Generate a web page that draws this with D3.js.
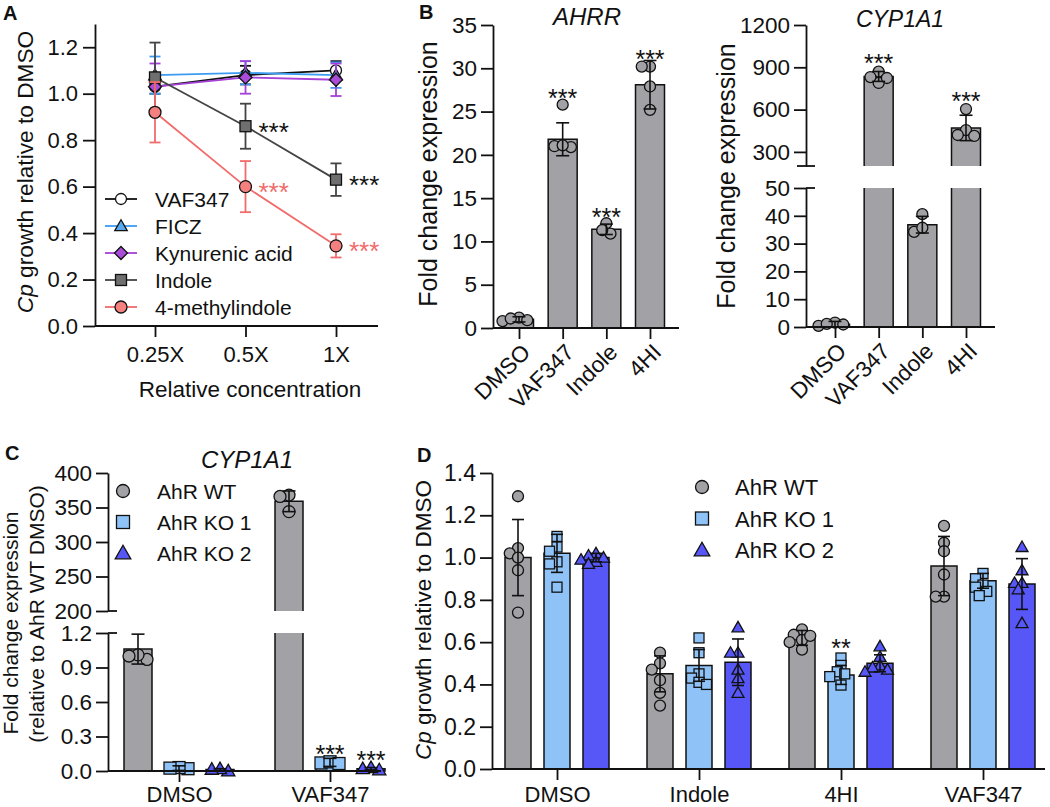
<!DOCTYPE html>
<html><head><meta charset="utf-8">
<script src="https://cdn.jsdelivr.net/npm/d3@7/dist/d3.min.js"></script>
<style>html,body{margin:0;padding:0;background:#fff;} svg{display:block;}</style>
</head><body>
<svg id="fig" width="1050" height="807"></svg>
<script>
// ================= DATA =================
// Panel A
const concLabels = ["0.25X", "0.5X", "1X"];
const seriesA = ["VAF347", "FICZ", "Kynurenic acid", "Indole", "4-methylindole"];
const vafMean = [1.03, 1.08, 1.10];
const vafSD = [0.03, 0.04, 0.04];
const ficzMean = [1.08, 1.09, 1.08];
const ficzSD = [0.08, 0.05, 0.055];
const kynMean = [1.03, 1.07, 1.06];
const kynSD = [0.10, 0.07, 0.07];
const indoleMean = [1.07, 0.86, 0.63];
const indoleSD = [0.15, 0.097, 0.07];
const mi4Mean = [0.92, 0.60, 0.345];
const mi4SD = [0.13, 0.11, 0.05];
const indoleStars = ["", "***", "***"];
const mi4Stars = ["", "***", "***"];
const yTicksA = [0, 0.2, 0.4, 0.6, 0.8, 1.0, 1.2];

// Panel B
const bCats = ["DMSO", "VAF347", "Indole", "4HI"];
const ahrrMean = [1.0, 21.8, 11.4, 28.1];
const ahrrSD = [0.3, 1.9, 0.6, 2.8];
const ahrrPts = [[0.8, 1.2, 0.9, 1.1], [25.8, 20.9, 21.0, 21.1], [10.9, 12.1, 11.3], [30.2, 30.2, 27.9, 25.2]];
const ahrrStars = ["", "***", "***", "***"];
const yTicksAHRR = [0, 5, 10, 15, 20, 25, 30, 35];
const cyp1Mean = [1.0, 835, 36.8, 470];
const cyp1SD = [1.0, 35, 3.0, 90];
const cyp1Pts = [[0.4, 1.6, 0.9, 1.1], [869, 789, 831, 824], [40.6, 34.2, 35.7], [604, 455, 413, 420]];
const cyp1Stars = ["", "***", "", "***"];
const yTicksCypLow = [0, 10, 20, 30, 40, 50];
const yTicksCypHigh = [300, 600, 900, 1200];

// Panel C
const cCats = ["DMSO", "VAF347"];
const genotypes = ["AhR WT", "AhR KO 1", "AhR KO 2"];
const cWTMean = [1.06, 359];
const cWTSD = [0.13, 15];
const cWTPts = [[0.97, 1.01, 1.0], [368, 366, 344]];
const cKO1Mean = [0.025, 0.075];
const cKO1SD = [0.02, 0.035];
const cKO1Pts = [[0.02, 0.03, 0.025], [0.07, 0.08, 0.065]];
const cKO2Mean = [0.012, 0.02];
const cKO2SD = [0.008, 0.01];
const cKO2Pts = [[0.0, 0.02, 0.015], [0.01, 0.03, 0.02]];
const cKO1Stars = ["", "***"];
const cKO2Stars = ["", "***"];
const yTicksCLow = [0, 0.3, 0.6, 0.9, 1.2];
const yTicksCHigh = [200, 250, 300, 350, 400];

// Panel D
const dCats = ["DMSO", "Indole", "4HI", "VAF347"];
const dWTMean = [1.0, 0.45, 0.62, 0.96];
const dWTSD = [0.18, 0.085, 0.035, 0.14];
const dWTPts = [[1.29, 1.045, 1.02, 1.0, 0.94, 0.74], [0.55, 0.50, 0.47, 0.42, 0.36, 0.30], [0.66, 0.635, 0.61, 0.60, 0.63, 0.565], [1.15, 1.07, 1.03, 0.92, 0.815, 0.815]];
const dKO1Mean = [1.02, 0.49, 0.445, 0.89];
const dKO1SD = [0.09, 0.075, 0.045, 0.035];
const dKO1Pts = [[1.10, 1.05, 1.03, 0.98, 0.97, 0.86], [0.62, 0.55, 0.45, 0.43, 0.41, 0.40], [0.525, 0.49, 0.46, 0.45, 0.437, 0.397], [0.925, 0.90, 0.87, 0.86, 0.84, 0.82]];
const dKO2Mean = [1.0, 0.505, 0.50, 0.875];
const dKO2SD = [0.02, 0.11, 0.04, 0.12];
const dKO2Pts = [[1.02, 1.01, 1.0, 0.99, 0.98, 0.97], [0.67, 0.55, 0.55, 0.47, 0.43, 0.36], [0.58, 0.53, 0.49, 0.47, 0.48, 0.46], [1.05, 0.94, 0.88, 0.88, 0.85, 0.69]];
const dKO1Stars = ["", "", "**", ""];
const yTicksD = [0, 0.2, 0.4, 0.6, 0.8, 1.0, 1.2, 1.4];

// ================= STYLE =================
const F = "'Liberation Sans', Arial, Helvetica, sans-serif";
const INK = "#111";
const GRAY = "#a2a2a6", KO1C = "#8fc3f8", KO2C = "#5757f7";
const svg = d3.select("#fig");

function axisStyle(g, fs) {
  g.attr("font-family", F).attr("font-size", fs);
  g.select(".domain").attr("stroke", INK).attr("stroke-width", 1.8);
  g.selectAll(".tick line").attr("stroke", INK).attr("stroke-width", 1.8);
  g.selectAll(".tick text").attr("fill", INK);
}
function hline(g, x1, x2, y) {
  g.append("line").attr("x1", x1).attr("x2", x2).attr("y1", y).attr("y2", y)
    .attr("stroke", INK).attr("stroke-width", 1.8);
}
function marker(g, shape, x, y, r, fill, stroke, sw) {
  let el;
  if (shape === "circle") el = g.append("circle").attr("cx", x).attr("cy", y).attr("r", r);
  else if (shape === "square") el = g.append("rect").attr("x", x - r).attr("y", y - r).attr("width", 2 * r).attr("height", 2 * r);
  else if (shape === "triangle") el = g.append("polygon").attr("points", `${x},${y - r * 1.2} ${x + r * 1.2},${y + r * 0.9} ${x - r * 1.2},${y + r * 0.9}`);
  else if (shape === "diamond") el = g.append("polygon").attr("points", `${x},${y - r * 1.3} ${x + r * 1.3},${y} ${x},${y + r * 1.3} ${x - r * 1.3},${y}`);
  el.attr("fill", fill).attr("stroke", stroke || INK).attr("stroke-width", sw || 1.3);
}
function errBar(g, x, yLo, yHi, cap, color, sw) {
  g.append("line").attr("x1", x).attr("x2", x).attr("y1", yLo).attr("y2", yHi).attr("stroke", color).attr("stroke-width", sw || 1.6);
  [yLo, yHi].forEach(y => g.append("line").attr("x1", x - cap / 2).attr("x2", x + cap / 2).attr("y1", y).attr("y2", y).attr("stroke", color).attr("stroke-width", sw || 1.6));
}
function stars(g, x, yCenter, txt, color, anchor, fs) {
  if (!txt) return;
  g.append("text").attr("x", x).attr("y", yCenter + (fs || 24) * 0.56).attr("text-anchor", anchor || "middle")
    .attr("font-family", F).attr("font-size", fs || 24).attr("fill", color || INK).text(txt);
}
function yTitle(g, x, y, parts, fs) {
  const t = g.append("text").attr("transform", `translate(${x},${y}) rotate(-90)`).attr("text-anchor", "middle")
    .attr("font-family", F).attr("font-size", fs).attr("fill", INK);
  parts.forEach(p => t.append("tspan").attr("font-style", p.italic ? "italic" : "normal").text(p.t));
}
function label(g, x, y, txt, fs, opts) {
  opts = opts || {};
  g.append("text").attr("x", x).attr("y", y).attr("font-family", F).attr("font-size", fs)
    .attr("font-weight", opts.bold ? "bold" : "normal").attr("font-style", opts.italic ? "italic" : "normal")
    .attr("text-anchor", opts.anchor || "start").attr("fill", INK).text(txt);
}
function valueY(v, segs) {
  for (const s of segs) if (v >= s.lo && v <= s.hi) return s.scale(v);
  if (v < segs[0].lo) return segs[0].scale(v);
  return segs[segs.length - 1].scale(v);
}
function swarm(ys, r) {
  const order = ys.map((y, i) => i).sort((a, b) => ys[a] - ys[b]);
  const offs = new Array(ys.length).fill(0);
  const placed = [];
  const cands = [0];
  for (let k = 1; k < 10; k++) cands.push(-k * r * 0.75, k * r * 0.75);
  for (const i of order) {
    let best = cands[cands.length - 1];
    for (const c of cands) {
      if (placed.every(p => Math.hypot(p.x - c, p.y - ys[i]) >= 1.45 * r)) { best = c; break; }
    }
    placed.push({ x: best, y: ys[i] }); offs[i] = best;
  }
  return offs;
}
function barSeg(g, cx, w, yS, lo, hi, openTop, openBottom, fill) {
  const y0 = yS(lo), y1 = yS(hi);
  g.append("rect").attr("x", cx - w / 2).attr("y", y1).attr("width", w).attr("height", Math.max(0, y0 - y1)).attr("fill", fill);
  const p = d3.path();
  p.moveTo(cx - w / 2, y0); p.lineTo(cx - w / 2, y1);
  if (openTop) p.moveTo(cx + w / 2, y1); else p.lineTo(cx + w / 2, y1);
  p.lineTo(cx + w / 2, y0);
  if (!openBottom) p.lineTo(cx - w / 2, y0);
  g.append("path").attr("d", p.toString()).attr("fill", "none").attr("stroke", INK).attr("stroke-width", 1.5);
}
function barGroup(g, o) {
  o.segs.forEach(s => {
    if (o.mean > s.lo) {
      barSeg(g, o.cx, o.w, s.scale, s.lo, Math.min(o.mean, s.hi), o.mean > s.hi, s.lo > 0, o.fill);
    }
  });
  const ys = o.pts.map(v => valueY(v, o.segs));
  const offs = swarm(ys, o.r);
  ys.forEach((y, i) => marker(g, o.shape, o.cx + offs[i], y, o.r, o.fill, INK, 1.3));
  const yLo = valueY(Math.max(o.mean - o.sd, o.segs[0].lo), o.segs), yHi = valueY(o.mean + o.sd, o.segs);
  errBar(g, o.cx, yLo, yHi, o.cap || 12, INK, 1.6);
  if (o.star) {
    const top = Math.min(yHi, d3.min(ys) - o.r);
    stars(g, o.cx, top - (o.starGap || 9), o.star, INK, "middle", 25);
  }
}

// ================= PANEL A =================
(function () {
  const g = svg.append("g");
  const x = d3.scalePoint().domain(concLabels).range([155, 336]);
  const y = d3.scaleLinear().domain([0, 1.3]).range([326, 24]);
  g.append("g").attr("transform", "translate(95,0)")
    .call(d3.axisLeft(y).tickValues(yTicksA).tickFormat(d3.format(".1f")).tickSize(12).tickSizeOuter(0).tickPadding(5))
    .call(axisStyle, 22);
  hline(g, 95, 378, y(0));
  g.append("g").attr("transform", `translate(0,${y(0)})`)
    .call(d3.axisBottom(x).tickSize(11).tickPadding(9)).call(axisStyle, 22).call(a => a.select(".domain").remove());
  label(g, 250, 397, "Relative concentration", 22.5, { anchor: "middle" });
  yTitle(g, 33, 172, [{ t: "Cp", italic: true }, { t: " growth relative to DMSO" }], 22.7);
  label(g, 3, 20, "A", 20, { bold: true });

  const series = [
    { mean: vafMean, sd: vafSD, line: "#111", fill: "#ffffff", shape: "circle", r: 5.5 },
    { mean: ficzMean, sd: ficzSD, line: "#3d9cf2", fill: "#5aa9ee", shape: "triangle", r: 5.2 },
    { mean: kynMean, sd: kynSD, line: "#a540d8", fill: "#a84cd9", shape: "diamond", r: 5 },
    { mean: indoleMean, sd: indoleSD, line: "#444444", fill: "#6f6f6f", shape: "square", r: 5.5 },
    { mean: mi4Mean, sd: mi4SD, line: "#f26b6b", fill: "#f58080", shape: "circle", r: 6 }
  ];
  series.forEach(s => {
    concLabels.forEach((c, i) => errBar(g, x(c), y(s.mean[i] - s.sd[i]), y(s.mean[i] + s.sd[i]), 11, s.line, 1.8));
    g.append("path").datum(s.mean).attr("fill", "none").attr("stroke", s.line).attr("stroke-width", 1.8)
      .attr("d", d3.line().x((d, i) => x(concLabels[i])).y(d => y(d)));
    concLabels.forEach((c, i) => marker(g, s.shape, x(c), y(s.mean[i]), s.r, s.fill, INK, 1.3));
  });
  concLabels.forEach((c, i) => {
    stars(g, x(c) + 13, y(indoleMean[i]), indoleStars[i], "#111", "start", 26);
    stars(g, x(c) + 13, y(mi4Mean[i]), mi4Stars[i], "#f26b6b", "start", 26);
  });
  seriesA.forEach((name, i) => {
    const s = series[i], ly = 199 + 27 * i;
    g.append("line").attr("x1", 105).attr("x2", 137).attr("y1", ly).attr("y2", ly).attr("stroke", s.line).attr("stroke-width", 1.8);
    marker(g, s.shape, 121, ly, s.r, s.fill, INK, 1.3);
    label(g, 155, ly + 8, name, 21);
  });
})();

// ================= PANEL B: AHRR =================
(function () {
  const g = svg.append("g");
  const x = d3.scalePoint().domain(bCats).range([519, 650]);
  const y = d3.scaleLinear().domain([0, 35]).range([328, 25]);
  g.append("g").attr("transform", "translate(493,0)")
    .call(d3.axisLeft(y).tickValues(yTicksAHRR).tickSize(12).tickSizeOuter(0).tickPadding(4))
    .call(axisStyle, 22.5);
  const segs = [{ scale: y, lo: 0, hi: 35 }];
  bCats.forEach((c, i) => barGroup(g, { cx: x(c), w: 29, mean: ahrrMean[i], sd: ahrrSD[i], pts: ahrrPts[i], fill: GRAY, shape: "circle", r: 5.5, segs, star: ahrrStars[i], cap: 13, starGap: 6 }));
  hline(g, 493, 679, y(0));
  g.append("g").attr("transform", `translate(0,${y(0)})`)
    .call(d3.axisBottom(x).tickSize(11).tickFormat("")).call(axisStyle, 22).call(a => a.select(".domain").remove());
  bCats.forEach(c => g.append("text").attr("transform", `translate(${x(c) + 7},${y(0) + 20}) rotate(-45)`)
    .attr("text-anchor", "end").attr("dy", "0.35em").attr("font-family", F).attr("font-size", 22.5).attr("fill", INK).text(c));
  yTitle(g, 437, 174, [{ t: "Fold change expression" }], 25);
  label(g, 587, 25, "AHRR", 24, { italic: true, anchor: "middle" });
  label(g, 419, 19, "B", 20, { bold: true });
})();

// ================= PANEL B: CYP1A1 =================
(function () {
  const g = svg.append("g");
  const x = d3.scalePoint().domain(bCats).range([835, 966]);
  const yLow = d3.scaleLinear().domain([0, 50]).range([327, 188]);
  const yHigh = d3.scaleLinear().domain([200, 1200]).range([166, 25]);
  const ax0 = 806;
  g.append("g").attr("transform", `translate(${ax0},0)`)
    .call(d3.axisLeft(yLow).tickValues(yTicksCypLow).tickSize(12).tickSizeOuter(0).tickPadding(4)).call(axisStyle, 22.5);
  g.append("g").attr("transform", `translate(${ax0},0)`)
    .call(d3.axisLeft(yHigh).tickValues(yTicksCypHigh).tickFormat(d3.format("d")).tickSize(12).tickSizeOuter(0).tickPadding(4)).call(axisStyle, 22.5);
  hline(g, ax0 - 9, ax0 + 9, yHigh(200));
  hline(g, ax0, ax0 + 9, yLow(50));
  const segs = [{ scale: yLow, lo: 0, hi: 50 }, { scale: yHigh, lo: 200, hi: 1200 }];
  bCats.forEach((c, i) => barGroup(g, { cx: x(c), w: 29, mean: cyp1Mean[i], sd: cyp1SD[i], pts: cyp1Pts[i], fill: GRAY, shape: "circle", r: 5.5, segs, star: cyp1Stars[i], cap: 13, starGap: 8 }));
  hline(g, ax0, 995, yLow(0));
  g.append("g").attr("transform", `translate(0,${yLow(0)})`)
    .call(d3.axisBottom(x).tickSize(11).tickFormat("")).call(axisStyle, 22).call(a => a.select(".domain").remove());
  bCats.forEach(c => g.append("text").attr("transform", `translate(${x(c) + 7},${yLow(0) + 20}) rotate(-45)`)
    .attr("text-anchor", "end").attr("dy", "0.35em").attr("font-family", F).attr("font-size", 22.5).attr("fill", INK).text(c));
  yTitle(g, 735, 176, [{ t: "Fold change expression" }], 25);
  label(g, 900, 27, "CYP1A1", 23, { italic: true, anchor: "middle" });
})();

// ================= PANEL C =================
(function () {
  const g = svg.append("g");
  const x = d3.scalePoint().domain(cCats).range([179, 330]);
  const sub = d3.scalePoint().domain(genotypes).range([-41, 41]);
  const yLow = d3.scaleLinear().domain([0, 1.2]).range([771, 633]);
  const yHigh = d3.scaleLinear().domain([200, 400]).range([611, 473]);
  const ax0 = 108;
  g.append("g").attr("transform", `translate(${ax0},0)`)
    .call(d3.axisLeft(yLow).tickValues(yTicksCLow).tickFormat(d3.format(".1f")).tickSize(12).tickSizeOuter(0).tickPadding(4)).call(axisStyle, 22.5);
  g.append("g").attr("transform", `translate(${ax0},0)`)
    .call(d3.axisLeft(yHigh).tickValues(yTicksCHigh).tickSize(12).tickSizeOuter(0).tickPadding(4)).call(axisStyle, 22.5);
  hline(g, ax0, ax0 + 9, yHigh(200));
  hline(g, ax0, ax0 + 9, yLow(1.2));
  const segs = [{ scale: yLow, lo: 0, hi: 1.2 }, { scale: yHigh, lo: 200, hi: 400 }];
  const groups = [
    { mean: cWTMean, sd: cWTSD, pts: cWTPts, fill: GRAY, shape: "circle", r: 6, st: ["", ""] },
    { mean: cKO1Mean, sd: cKO1SD, pts: cKO1Pts, fill: KO1C, shape: "square", r: 6, st: cKO1Stars },
    { mean: cKO2Mean, sd: cKO2SD, pts: cKO2Pts, fill: KO2C, shape: "triangle", r: 5.5, st: cKO2Stars }
  ];
  cCats.forEach((c, i) => groups.forEach((gr, j) => barGroup(g, {
    cx: x(c) + sub(genotypes[j]), w: 28, mean: gr.mean[i], sd: gr.sd[i], pts: gr.pts[i], fill: gr.fill,
    shape: gr.shape, r: gr.r, segs, star: gr.st[i], cap: 13, starGap: 7
  })));
  hline(g, ax0, 381, yLow(0));
  g.append("g").attr("transform", `translate(0,${yLow(0)})`)
    .call(d3.axisBottom(x).tickSize(11).tickPadding(4)).call(axisStyle, 22).call(a => a.select(".domain").remove());
  g.append("text").attr("transform", `translate(18,623) rotate(-90)`).attr("text-anchor", "middle")
    .attr("font-family", F).attr("font-size", 21).attr("fill", INK).text("Fold change expression");
  g.append("text").attr("transform", `translate(44,614) rotate(-90)`).attr("text-anchor", "middle")
    .attr("font-family", F).attr("font-size", 21).attr("fill", INK).text("(relative to AhR WT DMSO)");
  label(g, 247, 468, "CYP1A1", 24, { italic: true, anchor: "middle" });
  label(g, 5, 460, "C", 20, { bold: true });
  genotypes.forEach((name, j) => {
    const ly = 491 + 31 * j;
    marker(g, groups[j].shape, 123, ly, 6.5, groups[j].fill, INK, 1.3);
    label(g, 157, ly + 8, name, 21);
  });
})();

// ================= PANEL D =================
(function () {
  const g = svg.append("g");
  const x = d3.scalePoint().domain(dCats).range([557, 983]);
  const sub = d3.scalePoint().domain(genotypes).range([-39, 39]);
  const y = d3.scaleLinear().domain([0, 1.4]).range([769, 473]);
  const ax0 = 492;
  g.append("g").attr("transform", `translate(${ax0},0)`)
    .call(d3.axisLeft(y).tickValues(yTicksD).tickFormat(d3.format(".1f")).tickSize(12).tickSizeOuter(0).tickPadding(4)).call(axisStyle, 23);
  const segs = [{ scale: y, lo: 0, hi: 1.4 }];
  const groups = [
    { mean: dWTMean, sd: dWTSD, pts: dWTPts, fill: GRAY, shape: "circle", r: 5.5, st: ["", "", "", ""] },
    { mean: dKO1Mean, sd: dKO1SD, pts: dKO1Pts, fill: KO1C, shape: "square", r: 5, st: dKO1Stars },
    { mean: dKO2Mean, sd: dKO2SD, pts: dKO2Pts, fill: KO2C, shape: "triangle", r: 5, st: ["", "", "", ""] }
  ];
  dCats.forEach((c, i) => groups.forEach((gr, j) => barGroup(g, {
    cx: x(c) + sub(genotypes[j]), w: 26, mean: gr.mean[i], sd: gr.sd[i], pts: gr.pts[i], fill: gr.fill,
    shape: gr.shape, r: gr.r, segs, star: gr.st[i], cap: 12, starGap: 10
  })));
  hline(g, ax0, 1045, y(0));
  g.append("g").attr("transform", `translate(0,${y(0)})`)
    .call(d3.axisBottom(x).tickSize(11).tickPadding(6)).call(axisStyle, 22).call(a => a.select(".domain").remove());
  yTitle(g, 431, 620, [{ t: "Cp", italic: true }, { t: " growth relative to DMSO" }], 22.5);
  label(g, 417, 462, "D", 20, { bold: true });
  genotypes.forEach((name, j) => {
    const ly = 487 + 31.5 * j;
    marker(g, groups[j].shape, 702, ly, 6.5, groups[j].fill, INK, 1.3);
    label(g, 735, ly + 8, name, 22);
  });
})();
</script>
</body></html>
